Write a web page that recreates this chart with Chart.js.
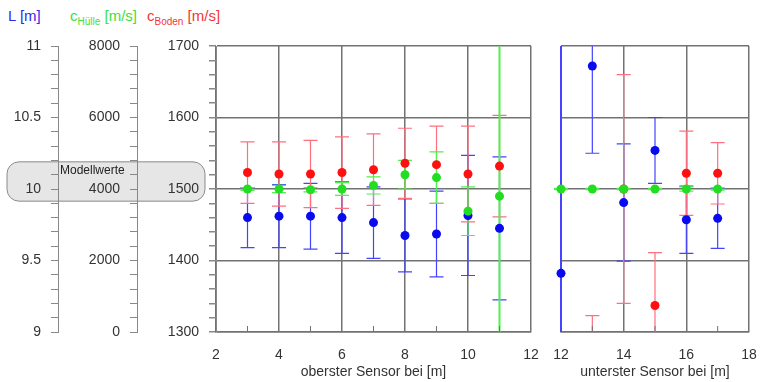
<!DOCTYPE html>
<html>
<head>
<meta charset="utf-8">
<script src="https://cdn.jsdelivr.net/npm/chart.js@4.4.1/dist/chart.umd.min.js"></script>
<style>
  body { margin: 0; background: #fff; }
  #wrap { position: relative; width: 762px; height: 382px; font-family: "Liberation Sans", Arial, sans-serif; }
  #left { position: absolute; left: 0; top: 0; }
  #right { position: absolute; left: 545px; top: 0; }
  .hd { position: absolute; top: 7px; font-size: 15px; white-space: nowrap; }
  .hd sub { font-size: 10px; }
</style>
</head>
<body>
<div id="wrap">
  <div class="hd" style="left:8px;color:#2b2bf0">L [m]</div>
  <div class="hd" style="left:70px;color:#3ee03e">c<sub>Hülle</sub> [m/s]</div>
  <div class="hd" style="left:147px;color:#f03838">c<sub>Boden</sub> [m/s]</div>
  <canvas id="left" width="545" height="382"></canvas>
  <canvas id="right" width="217" height="382"></canvas>
</div>
<script>
// Sensorpositionen [m]
var posTop = [3, 4, 5, 6, 7, 8, 9, 10, 11];
var posBottom = [12, 13, 14, 15, 16, 17];

// c_Boden [m/s] (rot)
var bodenTop = [1523, 1521, 1521, 1523, 1527, 1536, 1534, 1521, 1532];
var bodenTopErr = [43, 45, 47, 50, 50, 49, 54, 67, 71];
var bodenBottom = [null, 1200, 1500, 1337, 1522, 1522];
var bodenBottomErr = [null, 123, 160, 74, 59, 43];

// c_Huelle [m/s] (gruen)
var huelleTop = [4000, 4000, 3980, 4000, 4100, 4400, 4320, 3380, 3800];
var huelleTopErr = [40, 100, 60, 180, 240, 400, 720, 680, 9000];
var huelleBottom = [4000, 4000, 4000, 4000, 4000, 4000];
var huelleBottomErr = [20, 20, 20, 20, 60, 30];

// L [m] (blau)
var lTop = [9.80, 9.81, 9.81, 9.80, 9.765, 9.675, 9.685, 9.815, 9.725];
var lTopErr = [0.21, 0.22, 0.23, 0.25, 0.25, 0.255, 0.30, 0.42, 0.50];
var lBottom = [9.41, 10.86, 9.905, 10.27, 9.785, 9.795];
var lBottomErr = [2, 0.61, 0.41, 0.23, 0.235, 0.21];

// Achsenbeschriftung
var lTicks = [9, 9.5, 10, 10.5, 11];
var huelleTicks = [0, 2000, 4000, 6000, 8000];
var bodenTicks = [1300, 1400, 1500, 1600, 1700];
var xTopTicks = [2, 4, 6, 8, 10, 12];
var xBottomTicks = [12, 14, 16, 18];

// Bereich "Modellwerte" auf der c_Boden-Achse
var modellRange = [1483, 1538];

var FONT = { family: '"Liberation Sans", Arial, sans-serif', size: 14 };
var TXT = '#333';
var GRID = '#727272';

function pts(xs, ys, es) {
  var out = [];
  for (var i = 0; i < xs.length; i++) {
    if (ys[i] === null) continue;
    out.push({ x: xs[i], y: ys[i], e: es[i] });
  }
  return out;
}

function labelFrom(list) {
  return function (v) {
    for (var i = 0; i < list.length; i++) {
      if (Math.abs(list[i] - v) < 1e-6) return String(list[i]);
    }
    return '';
  };
}

function isIn(list, v) {
  return labelFrom(list)(v) !== '';
}

var errorBars = {
  id: 'errorBars',
  beforeDatasetsDraw: function (chart) {
    var ctx = chart.ctx, a = chart.chartArea;
    ctx.save();
    ctx.beginPath();
    ctx.rect(a.left - 10, a.top, a.right - a.left + 20, a.bottom - a.top);
    ctx.clip();
    // letzte Datenreihe zuerst, damit die Reihenfolge wie bei den Punkten ist
    for (var i = chart.data.datasets.length - 1; i >= 0; i--) {
      var ds = chart.data.datasets[i];
      var meta = chart.getDatasetMeta(i);
      var xs = chart.scales[meta.xAxisID], ys = chart.scales[meta.yAxisID];
      ctx.strokeStyle = ds.barColor;
      ds.data.forEach(function (p) {
        var x = xs.getPixelForValue(p.x);
        var y1 = ys.getPixelForValue(p.y + p.e);
        var y2 = ys.getPixelForValue(p.y - p.e);
        // sehr lange Fehlerbalken sind im Original kraeftiger
        ctx.lineWidth = Math.abs(y2 - y1) > 300 ? 2 : 1.2;
        ctx.beginPath();
        ctx.moveTo(x, y1); ctx.lineTo(x, y2);
        ctx.moveTo(x - 7, y1); ctx.lineTo(x + 7, y1);
        ctx.moveTo(x - 7, y2); ctx.lineTo(x + 7, y2);
        ctx.stroke();
      });
    }
    ctx.restore();
  }
};

var minorTicks = {
  id: 'minorTicks',
  beforeDatasetsDraw: function (chart) {
    var xs = chart.scales.x, ctx = chart.ctx, b = chart.chartArea.bottom;
    ctx.save();
    ctx.strokeStyle = GRID;
    ctx.lineWidth = 1;
    xs.ticks.forEach(function (t) {
      if (Math.round(t.value) % 2 === 0) return;
      var x = xs.getPixelForValue(t.value);
      ctx.beginPath(); ctx.moveTo(x, b); ctx.lineTo(x, b - 6); ctx.stroke();
    });
    ctx.restore();
  }
};

var modellBox = {
  id: 'modellBox',
  beforeDraw: function (chart) {
    var y = chart.scales.y, ctx = chart.ctx;
    var top = y.getPixelForValue(modellRange[1]);
    var bottom = y.getPixelForValue(modellRange[0]);
    var left = 7, right = chart.chartArea.left - 11;
    ctx.save();
    ctx.fillStyle = '#e6e6e6';
    ctx.strokeStyle = '#8a8a8a';
    ctx.lineWidth = 1;
    ctx.beginPath();
    ctx.roundRect(left, top, right - left, bottom - top, 12);
    ctx.fill();
    ctx.stroke();
    ctx.fillStyle = '#222';
    ctx.font = '12px "Liberation Sans", Arial, sans-serif';
    ctx.textBaseline = 'middle';
    ctx.fillText('Modellwerte', chart.scales.yL.right + 2, top + 9);
    ctx.restore();
  }
};

function sideAxis(min, max, step, list, weight, width) {
  return {
    type: 'linear', position: 'left', weight: weight, min: min, max: max,
    ticks: { stepSize: step, autoSkip: false, callback: labelFrom(list), color: TXT, font: FONT, padding: 10 },
    grid: { drawOnChartArea: false, tickLength: 7, tickColor: '#888' },
    border: { display: true, color: '#888' },
    afterFit: function (s) { s.width = width; }
  };
}

function xAxis(min, max, list, title) {
  return {
    type: 'linear', min: min, max: max,
    ticks: { stepSize: 1, autoSkip: false, maxRotation: 0, callback: labelFrom(list), color: TXT, font: FONT, padding: 15 },
    grid: {
      drawTicks: false, lineWidth: 1.5,
      color: function (c) { return c.tick && isIn(list, c.tick.value) ? GRID : 'rgba(0,0,0,0)'; }
    },
    border: { display: true, color: GRID, width: 1.5 },
    title: { display: true, text: title, color: TXT, font: FONT, padding: { top: 0, bottom: 1 } },
    afterFit: function (s) {
      s.height = 50;
      s.paddingLeft = 0;
      s.paddingRight = 0;
    }
  };
}

function mainGrid(c) {
  return c.tick && isIn(bodenTicks, c.tick.value) ? GRID : 'rgba(0,0,0,0)';
}

function series(xs, ysH, esH, ysB, esB, ysL, esL, clip) {
  return [
    { label: 'c Hülle', data: pts(xs, ysH, esH), yAxisID: 'yH', backgroundColor: '#22dd22', barColor: '#4ff04f', clip: clip },
    { label: 'c Boden', data: pts(xs, ysB, esB), yAxisID: 'y', backgroundColor: '#ff1010', barColor: '#ff6f80', clip: clip },
    { label: 'L', data: pts(xs, ysL, esL), yAxisID: 'yL', backgroundColor: '#0a0aee', barColor: '#4444ff', clip: clip }
  ];
}

var common = {
  responsive: false,
  animation: false,
  events: [],
  plugins: { legend: { display: false }, tooltip: { enabled: false } },
  elements: { point: { radius: 4.5, borderWidth: 0, hoverRadius: 4.5 } }
};

new Chart(document.getElementById('left'), {
  type: 'scatter',
  data: { datasets: series(posTop, huelleTop, huelleTopErr, bodenTop, bodenTopErr, lTop, lTopErr, undefined) },
  options: Object.assign({}, common, {
    layout: { padding: { top: 46, right: 14, left: 0, bottom: 0 } },
    scales: {
      x: xAxis(2, 12, xTopTicks, 'oberster Sensor bei [m]'),
      y: Object.assign(sideAxis(1300, 1700, 20, bodenTicks, 0, 79), {
        grid: { drawOnChartArea: true, tickLength: 7, tickColor: '#888', lineWidth: 1.5, color: mainGrid }
      }),
      yH: sideAxis(0, 8000, 400, huelleTicks, 1, 79),
      yL: sideAxis(9, 11, 0.1, lTicks, 2, 58)
    }
  }),
  plugins: [modellBox, errorBars, minorTicks]
});

new Chart(document.getElementById('right'), {
  type: 'scatter',
  data: { datasets: series(posBottom, huelleBottom, huelleBottomErr, bodenBottom, bodenBottomErr, lBottom, lBottomErr, false) },
  options: Object.assign({}, common, {
    layout: { padding: { top: 46, right: 13, left: 16, bottom: 0 } },
    scales: {
      x: xAxis(12, 18, xBottomTicks, 'unterster Sensor bei [m]'),
      y: {
        type: 'linear', position: 'left', min: 1300, max: 1700,
        ticks: { stepSize: 100, display: false },
        grid: { drawTicks: false, lineWidth: 1.5, color: GRID },
        border: { display: false },
        afterFit: function (s) { s.width = 0; }
      },
      yH: { type: 'linear', display: false, min: 0, max: 8000 },
      yL: { type: 'linear', display: false, min: 9, max: 11 }
    }
  }),
  plugins: [errorBars, minorTicks]
});
</script>
</body>
</html>
